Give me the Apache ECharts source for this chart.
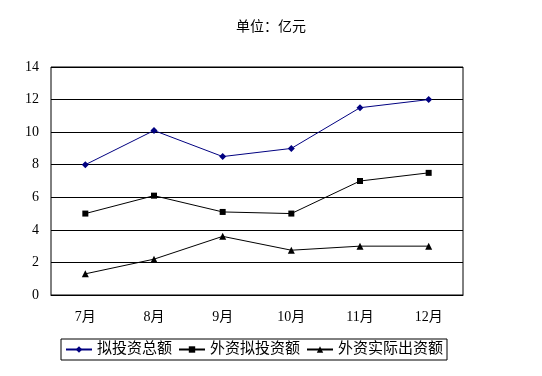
<!DOCTYPE html>
<html>
<head>
<meta charset="utf-8">
<script src="https://cdn.jsdelivr.net/npm/echarts@6/dist/echarts.min.js"></script>
<style>
    html,body{margin:0;padding:0;background:#fff;}
    #main{width:542px;height:376px;}
</style>
</head>
<body>
<div id="main"></div>
<script>
    // 月份
    const months = ['7月', '8月', '9月', '10月', '11月', '12月']
    // 三条线的数值(亿元)
    const totalPlan = [8.0, 10.1, 8.5, 9.0, 11.5, 12.0]
    const foreignPlan = [5.0, 6.1, 5.1, 5.0, 7.0, 7.5]
    const foreignActual = [1.3, 2.2, 3.6, 2.75, 3.0, 3.0]
    const seriesNames = ['拟投资总额', '外资拟投资额', '外资实际出资额']

    const font = "'Liberation Serif', 'Noto Sans CJK SC'"
    let chartInstance = echarts.init(document.getElementById('main'))

    const option = {
        animation:false,
        title:{
            text:'单位：亿元',
            left:'center',
            top:15,
            textStyle:{
                fontSize:14,
                fontWeight:'normal',
                color:'#000',
                fontFamily:font
            }
        },
        legend:{
            data:seriesNames,
            left:61,
            top:339,
            itemWidth:26,
            itemHeight:8,
            itemGap:6,
            padding:[3,4,3,4],
            borderColor:'#000',
            borderWidth:1,
            textStyle:{
                fontSize:15,
                color:'#000',
                fontFamily:font
            }
        },
        grid:{
            left:51,
            right:79,
            top:67,
            bottom:81,
            show:true,
            borderColor:'#000',
            borderWidth:1
        },
        xAxis:{
            type:'category',
            data:months,
            boundaryGap:true,
            axisLine:{ lineStyle:{ color:'#000' } },
            axisTick:{ inside:true, length:3, lineStyle:{ color:'#000' } },
            axisLabel:{
                margin:15,
                fontSize:14,
                color:'#000',
                fontFamily:font
            }
        },
        yAxis:{
            type:'value',
            min:0,
            max:14,
            interval:2,
            axisLine:{ show:false },
            axisTick:{ show:false },
            splitLine:{ lineStyle:{ color:'#000', width:1 } },
            axisLabel:{
                margin:12,
                fontSize:14,
                color:'#000',
                fontFamily:font
            }
        },
        series:[
            {
                name:seriesNames[0],
                type:'line',
                data:totalPlan,
                symbol:'diamond',
                symbolSize:7,
                color:'#000080',
                lineStyle:{ width:1 }
            },
            {
                name:seriesNames[1],
                type:'line',
                data:foreignPlan,
                symbol:'rect',
                symbolSize:6,
                color:'#000',
                lineStyle:{ width:1 }
            },
            {
                name:seriesNames[2],
                type:'line',
                data:foreignActual,
                symbol:'triangle',
                symbolSize:7,
                color:'#000',
                lineStyle:{ width:1 }
            }
        ]
    }
    chartInstance.setOption(option)
</script>
</body>
</html>
